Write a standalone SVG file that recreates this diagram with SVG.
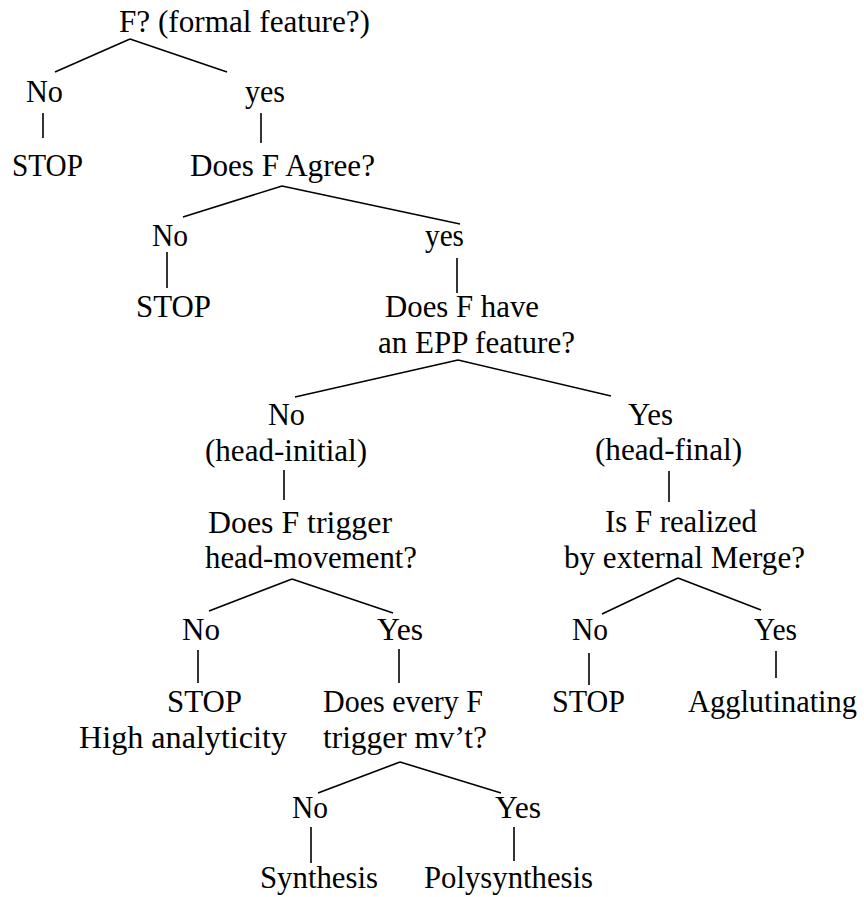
<svg xmlns="http://www.w3.org/2000/svg" width="864" height="897" viewBox="0 0 864 897">
  <style>
    text { font-family: "Liberation Serif", "Times New Roman", serif; font-size: 31px; fill: #000; }
    .edge { stroke: #000; stroke-width: 1.6; fill: none; stroke-linecap: butt; }
  </style>
  <rect width="864" height="897" fill="#fff"/>

  <!-- connectors -->
  <g id="connectors" class="edge">
    <path d="M130 39 L55 72 M130 39 L227 72"/>
    <path d="M43 113 V138"/>
    <path d="M261 113 V143"/>
    <path d="M282 186 L183 217 M282 186 L460 224"/>
    <path d="M167 252 V288"/>
    <path d="M457 258 V293"/>
    <path d="M458 360 L295 397 M458 360 L611 396"/>
    <path d="M284 470 V500"/>
    <path d="M669 471 V502"/>
    <path d="M292 579 L209 611 M292 579 L393 613"/>
    <path d="M678 578 L602 614 M678 578 L761 610"/>
    <path d="M198 650 V683"/>
    <path d="M399 649 V683"/>
    <path d="M589 653 V685"/>
    <path d="M776 651 V678"/>
    <path d="M400 762 L318 793 M400 762 L501 793"/>
    <path d="M311 827 V863"/>
    <path d="M514 827 V861"/>
  </g>

  <!-- nodes -->
  <g id="root"><text x="119" y="32" textLength="251" lengthAdjust="spacingAndGlyphs">F? (formal feature?)</text></g>
  <g id="f-no"><text x="26" y="102" textLength="37" lengthAdjust="spacingAndGlyphs">No</text></g>
  <g id="f-yes"><text x="245" y="102" textLength="40" lengthAdjust="spacingAndGlyphs">yes</text></g>
  <g id="f-stop"><text x="12" y="176" textLength="71" lengthAdjust="spacingAndGlyphs">STOP</text></g>
  <g id="agree"><text x="190" y="176" textLength="185" lengthAdjust="spacingAndGlyphs">Does F Agree?</text></g>
  <g id="agree-no"><text x="152" y="246" textLength="36" lengthAdjust="spacingAndGlyphs">No</text></g>
  <g id="agree-yes"><text x="425" y="246" textLength="39" lengthAdjust="spacingAndGlyphs">yes</text></g>
  <g id="agree-stop"><text x="136" y="317" textLength="75" lengthAdjust="spacingAndGlyphs">STOP</text></g>
  <g id="epp">
    <text x="385" y="317" textLength="154" lengthAdjust="spacingAndGlyphs">Does F have</text>
    <text x="378" y="353" textLength="197" lengthAdjust="spacingAndGlyphs">an EPP feature?</text>
  </g>
  <g id="epp-no">
    <text x="268" y="425" textLength="37" lengthAdjust="spacingAndGlyphs">No</text>
    <text x="205" y="461" textLength="162" lengthAdjust="spacingAndGlyphs">(head-initial)</text>
  </g>
  <g id="epp-yes">
    <text x="628" y="425" textLength="45" lengthAdjust="spacingAndGlyphs">Yes</text>
    <text x="595" y="460" textLength="147" lengthAdjust="spacingAndGlyphs">(head-final)</text>
  </g>
  <g id="headmove">
    <text x="208" y="533" textLength="184" lengthAdjust="spacingAndGlyphs">Does F trigger</text>
    <text x="205" y="568" textLength="212" lengthAdjust="spacingAndGlyphs">head-movement?</text>
  </g>
  <g id="merge">
    <text x="605" y="532" textLength="152" lengthAdjust="spacingAndGlyphs">Is F realized</text>
    <text x="564" y="568" textLength="241" lengthAdjust="spacingAndGlyphs">by external Merge?</text>
  </g>
  <g id="headmove-no"><text x="182" y="640" textLength="38" lengthAdjust="spacingAndGlyphs">No</text></g>
  <g id="headmove-yes"><text x="377" y="640" textLength="46" lengthAdjust="spacingAndGlyphs">Yes</text></g>
  <g id="merge-no"><text x="572" y="640" textLength="36" lengthAdjust="spacingAndGlyphs">No</text></g>
  <g id="merge-yes"><text x="754" y="640" textLength="43" lengthAdjust="spacingAndGlyphs">Yes</text></g>
  <g id="analytic">
    <text x="167" y="712" textLength="75" lengthAdjust="spacingAndGlyphs">STOP</text>
    <text x="79" y="748" textLength="208" lengthAdjust="spacingAndGlyphs">High analyticity</text>
  </g>
  <g id="every">
    <text x="323" y="712" textLength="160" lengthAdjust="spacingAndGlyphs">Does every F</text>
    <text x="323" y="748" textLength="164" lengthAdjust="spacingAndGlyphs">trigger mv’t?</text>
  </g>
  <g id="merge-stop"><text x="552" y="712" textLength="73" lengthAdjust="spacingAndGlyphs">STOP</text></g>
  <g id="agglutinating"><text x="688" y="712" textLength="169" lengthAdjust="spacingAndGlyphs">Agglutinating</text></g>
  <g id="every-no"><text x="292" y="818" textLength="36" lengthAdjust="spacingAndGlyphs">No</text></g>
  <g id="every-yes"><text x="495" y="818" textLength="46" lengthAdjust="spacingAndGlyphs">Yes</text></g>
  <g id="synthesis"><text x="260" y="888" textLength="118" lengthAdjust="spacingAndGlyphs">Synthesis</text></g>
  <g id="polysynthesis"><text x="424" y="888" textLength="169" lengthAdjust="spacingAndGlyphs">Polysynthesis</text></g>
</svg>
